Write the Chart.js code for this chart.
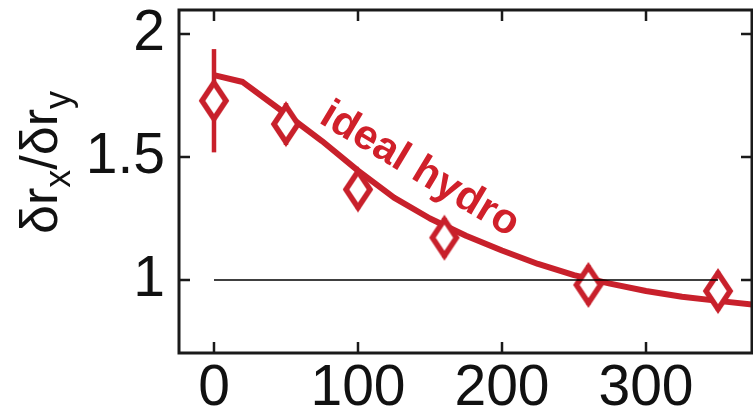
<!DOCTYPE html>
<html>
<head>
<meta charset="utf-8">
<script src="https://cdn.jsdelivr.net/npm/chart.js@4/dist/chart.umd.min.js"></script>
<style>
  html, body { margin: 0; padding: 0; background: #fff; }
  #wrap { width: 753px; height: 417px; }
</style>
</head>
<body>
<div id="wrap"><canvas id="ratio"></canvas></div>
<script>
// Measured points with vertical errors
const measX = [0, 50, 100, 160, 260, 350];
const measY = [1.729, 1.634, 1.368, 1.172, 0.98, 0.955];
const measErr = [0.21, 0.085, 0.08, 0.08, 0.08, 0.08];

// Ideal hydro curve
const hydroX = [0, 20, 50, 75, 100, 125, 150, 175, 200, 225, 250, 275, 300, 325, 350, 374];
const hydroY = [1.833, 1.805, 1.675, 1.565, 1.445, 1.335, 1.25, 1.18, 1.12, 1.065, 1.02, 0.985, 0.955, 0.932, 0.915, 0.9];

// Reference line at unity
const unityX = [0, 350];
const unityY = [1, 1];

const xTicks = [0, 100, 200, 300];
const yTicks = [1, 1.5, 2];

const RED = "#c8202b";
const FONT = "'Liberation Sans', Arial, sans-serif";

const toPoints = (xs, ys) => xs.map((x, i) => ({ x: x, y: ys[i] }));

// Tall hollow diamond used as the marker
const diamond = document.createElement("canvas");
diamond.width = 36;
diamond.height = 50;
(() => {
  const c = diamond.getContext("2d");
  const cx = 18, cy = 25, hw = 12, hh = 18;
  c.beginPath();
  c.moveTo(cx, cy - hh);
  c.lineTo(cx + hw, cy);
  c.lineTo(cx, cy + hh);
  c.lineTo(cx - hw, cy);
  c.closePath();
  c.fillStyle = "#fff";
  c.fill();
  c.lineWidth = 5.5;
  c.lineJoin = "miter";
  c.strokeStyle = RED;
  c.stroke();
})();

// Error bars, drawn under the markers
const errorBars = {
  id: "errorBars",
  beforeDatasetsDraw(chart) {
    const { ctx, scales } = chart;
    ctx.save();
    ctx.strokeStyle = RED;
    ctx.lineWidth = 4.5;
    measX.forEach((x, i) => {
      const px = scales.x.getPixelForValue(x);
      ctx.beginPath();
      ctx.moveTo(px, scales.y.getPixelForValue(measY[i] + measErr[i]));
      ctx.lineTo(px, scales.y.getPixelForValue(measY[i] - measErr[i]));
      ctx.stroke();
    });
    ctx.restore();
  },
};

// Box frame, inward ticks, axis title and curve label
const frame = {
  id: "frame",
  afterDraw(chart) {
    const { ctx, chartArea: a, scales } = chart;
    ctx.save();
    ctx.strokeStyle = "#1a1a1a";
    ctx.lineWidth = 3;
    ctx.strokeRect(a.left, a.top, a.right - a.left, a.bottom - a.top);

    const len = 11;
    ctx.lineWidth = 2.5;
    ctx.beginPath();
    xTicks.forEach((v) => {
      const px = scales.x.getPixelForValue(v);
      ctx.moveTo(px, a.bottom); ctx.lineTo(px, a.bottom - len);
      ctx.moveTo(px, a.top); ctx.lineTo(px, a.top + len);
    });
    yTicks.forEach((v) => {
      const py = scales.y.getPixelForValue(v);
      ctx.moveTo(a.left, py); ctx.lineTo(a.left + len, py);
      ctx.moveTo(a.right, py); ctx.lineTo(a.right - len, py);
    });
    ctx.stroke();

    // y title: δr_x/δr_y, rotated
    ctx.translate(57, 234);
    ctx.rotate(-Math.PI / 2);
    ctx.fillStyle = "#111";
    ctx.textBaseline = "alphabetic";
    ctx.textAlign = "left";
    const big = "52px " + FONT, small = "36px " + FONT;
    let x = 0;
    const put = (t, f, dy) => {
      ctx.font = f;
      ctx.fillText(t, x, dy);
      x += ctx.measureText(t).width;
    };
    put("δr", big, 0);
    put("x", small, 13);
    put("/", big, 0);
    put("δr", big, 0);
    put("y", small, 13);
    ctx.restore();

    // curve label
    ctx.save();
    ctx.translate(scales.x.getPixelForValue(72), scales.y.getPixelForValue(1.642));
    ctx.rotate(31 * Math.PI / 180);
    ctx.font = "bold 42px " + FONT;
    ctx.fillStyle = "#d0202a";
    ctx.textAlign = "left";
    ctx.textBaseline = "alphabetic";
    ctx.fillText("ideal hydro", 0, 0);
    ctx.restore();
  },
};

const fixAxis = (size) => (s) => {
  if (s.isHorizontal()) s.height = size; else s.width = size;
  s.paddingTop = 0; s.paddingBottom = 0;
  s.paddingLeft = 0; s.paddingRight = 0;
};

new Chart(document.getElementById("ratio"), {
  type: "line",
  data: {
    datasets: [
      {
        label: "unity",
        data: toPoints(unityX, unityY),
        borderColor: "#000",
        borderWidth: 1.5,
        pointRadius: 0,
        order: 0,
      },
      {
        label: "data",
        data: toPoints(measX, measY),
        showLine: false,
        pointStyle: diamond,
        pointRadius: 18,
        order: 1,
      },
      {
        label: "ideal hydro",
        data: toPoints(hydroX, hydroY),
        borderColor: RED,
        borderWidth: 6,
        borderJoinStyle: "round",
        pointRadius: 0,
        tension: 0,
        order: 2,
      },
    ],
  },
  options: {
    responsive: true,
    maintainAspectRatio: false,
    animation: false,
    events: [],
    layout: { autoPadding: false, padding: { top: 10, right: 1, left: 0, bottom: 0 } },
    plugins: { legend: { display: false }, tooltip: { enabled: false } },
    scales: {
      x: {
        type: "linear",
        min: -24.3,
        max: 373.6,
        afterBuildTicks: (s) => { s.ticks = xTicks.map((v) => ({ value: v })); },
        afterFit: fixAxis(64),
        grid: { display: false, drawTicks: false },
        border: { display: false },
        ticks: {
          color: "#111",
          padding: 2,
          maxRotation: 0,
          font: { family: FONT, size: 57 },
        },
      },
      y: {
        type: "linear",
        min: 0.703,
        max: 2.098,
        afterBuildTicks: (s) => { s.ticks = yTicks.map((v) => ({ value: v })); },
        afterFit: fixAxis(179),
        grid: { display: false, drawTicks: false },
        border: { display: false },
        ticks: {
          color: "#111",
          padding: 14,
          font: { family: FONT, size: 57 },
          callback: (v) => String(v),
        },
      },
    },
  },
  plugins: [errorBars, frame],
});
</script>
</body>
</html>
